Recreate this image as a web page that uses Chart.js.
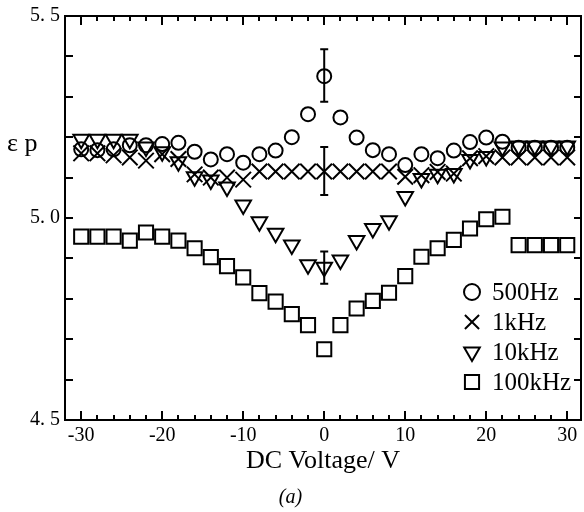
<!DOCTYPE html>
<html>
<head>
<meta charset="utf-8">
<script src="https://cdn.jsdelivr.net/npm/chart.js"></script>
<style>
html,body{margin:0;padding:0;background:#fff;}
canvas{display:block;}
</style>
</head>
<body>
<canvas id="c" width="584" height="512"></canvas>
<script>
// ---- data ----
const voltages = [-30,-28,-26,-24,-22,-20,-18,-16,-14,-12,-10,-8,-6,-4,-2,0,2,4,6,8,10,12,14,16,18,20,22,24,26,28,30];
const eps500Hz = [5.170,5.168,5.170,5.180,5.180,5.183,5.186,5.164,5.145,5.158,5.137,5.158,5.167,5.200,5.257,5.351,5.249,5.199,5.168,5.158,5.131,5.158,5.148,5.167,5.188,5.199,5.189,5.174,5.174,5.174,5.174];
const eps1kHz  = [5.160,5.160,5.155,5.150,5.142,5.158,5.146,5.108,5.100,5.100,5.095,5.115,5.115,5.115,5.115,5.115,5.115,5.115,5.115,5.115,5.102,5.106,5.114,5.110,5.148,5.153,5.150,5.150,5.150,5.150,5.150];
const eps10kHz = [5.195,5.195,5.195,5.195,5.176,5.164,5.139,5.102,5.094,5.077,5.032,4.991,4.962,4.933,4.884,4.878,4.896,4.944,4.974,4.993,5.053,5.098,5.108,5.110,5.145,5.152,5.176,5.178,5.178,5.178,5.178];
const eps100kHz= [4.954,4.954,4.954,4.944,4.964,4.954,4.944,4.925,4.903,4.881,4.853,4.814,4.793,4.762,4.735,4.675,4.735,4.776,4.795,4.815,4.856,4.904,4.925,4.946,4.974,4.997,5.003,4.933,4.933,4.933,4.933];
const seriesNames = ['500Hz','1kHz','10kHz','100kHz'];
// error bars (at 0 V)
const errX    = [0, 0, 0];
const errLow  = [5.288, 5.057, 4.837];
const errHigh = [5.418, 5.176, 4.917];
// ticks
const xTickValues = [-30,-20,-10,0,10,20,30];
const yTickValues = [4.5,5.0,5.5];
const xMinorTicks = [-30,-28,-26,-24,-22,-20,-18,-16,-14,-12,-10,-8,-6,-4,-2,0,2,4,6,8,10,12,14,16,18,20,22,24,26,28,30];
const yMinorTicks = [4.5,4.6,4.7,4.8,4.9,5.0,5.1,5.2,5.3,5.4,5.5];

const FONT = "'Liberation Serif', 'DejaVu Serif', serif";
const styles = [
  {pointStyle:'circle', radius:7, rotation:0},
  {pointStyle:'crossRot', radius:11, rotation:0},
  {pointStyle:'triangle', radius:9, rotation:180},
  {pointStyle:'rect', radius:10, rotation:0}
];
const allSeries = [eps500Hz, eps1kHz, eps10kHz, eps100kHz];

const datasets = allSeries.map((arr, i) => ({
  label: seriesNames[i],
  data: voltages.map((v, k) => ({x: v, y: arr[k]})),
  showLine: false,
  pointStyle: styles[i].pointStyle,
  pointRadius: styles[i].radius,
  pointRotation: styles[i].rotation,
  pointBorderWidth: 2,
  borderColor: '#000',
  backgroundColor: 'rgba(0,0,0,0)',
  pointBackgroundColor: 'rgba(0,0,0,0)',
  pointBorderColor: '#000',
  pointHoverRadius: styles[i].radius
}));

function fallbackDrawPoint(ctx, o, x, y) {
  const r = o.radius;
  ctx.beginPath();
  if (o.pointStyle === 'circle') ctx.arc(x, y, r, 0, Math.PI*2);
  else if (o.pointStyle === 'crossRot') {
    const d = r * Math.SQRT1_2;
    ctx.moveTo(x-d, y-d); ctx.lineTo(x+d, y+d);
    ctx.moveTo(x+d, y-d); ctx.lineTo(x-d, y+d);
  } else if (o.pointStyle === 'triangle') {
    const s = r*Math.sin(Math.PI/3), c = r*0.5;
    ctx.moveTo(x, y + r); ctx.lineTo(x + s, y - c); ctx.lineTo(x - s, y - c); ctx.closePath();
  } else {
    const d = r * Math.SQRT1_2;
    ctx.rect(x-d, y-d, 2*d, 2*d);
  }
  ctx.stroke();
}

const framePlugin = {
  id: 'frame',
  afterDatasetsDraw(chart) {
    const {ctx, chartArea: a, scales: {x, y}} = chart;
    ctx.save();
    ctx.strokeStyle = '#000';
    ctx.lineWidth = 2;
    ctx.strokeRect(a.left, a.top, a.right - a.left, a.bottom - a.top);
    ctx.beginPath();
    xMinorTicks.forEach(v => {
      const px = Math.round(x.getPixelForValue(v));
      const len = (v % 10 === 0) ? 9 : 5;
      ctx.moveTo(px, a.bottom); ctx.lineTo(px, a.bottom - len);
      ctx.moveTo(px, a.top); ctx.lineTo(px, a.top + len);
    });
    yMinorTicks.forEach(v => {
      const py = Math.round(y.getPixelForValue(v));
      ctx.moveTo(a.left, py); ctx.lineTo(a.left + 8, py);
      ctx.moveTo(a.right, py); ctx.lineTo(a.right - 7, py);
    });
    ctx.stroke();
    // error bars
    ctx.beginPath();
    errX.forEach((v, i) => {
      const px = x.getPixelForValue(v);
      const p1 = y.getPixelForValue(errLow[i]);
      const p2 = y.getPixelForValue(errHigh[i]);
      ctx.moveTo(px, p1); ctx.lineTo(px, p2);
      ctx.moveTo(px - 4, p1); ctx.lineTo(px + 4, p1);
      ctx.moveTo(px - 4, p2); ctx.lineTo(px + 4, p2);
    });
    ctx.stroke();
    // legend
    const dp = (Chart.helpers && Chart.helpers.drawPoint) ? Chart.helpers.drawPoint : null;
    ctx.textBaseline = 'middle';
    ctx.textAlign = 'left';
    seriesNames.forEach((name, i) => {
      const ly = 292 + i * 30;
      const o = {pointStyle: styles[i].pointStyle, radius: [8,10,9,10][i], rotation: styles[i].rotation, borderWidth: 2};
      ctx.strokeStyle = '#000';
      ctx.fillStyle = 'rgba(0,0,0,0)';
      ctx.lineWidth = 2;
      if (dp) dp(ctx, o, 472, ly); else fallbackDrawPoint(ctx, o, 472, ly);
      ctx.fillStyle = '#000';
      ctx.font = "25px " + FONT;
      ctx.fillText(name, 492, ly + 1);
    });
    // y-axis label (horizontal)
    ctx.fillStyle = '#000';
    ctx.font = "26px " + FONT;
    ctx.textAlign = 'left';
    ctx.fillText('\u03b5 p', 7, 144);
    ctx.restore();
  }
};

new Chart(document.getElementById('c'), {
  type: 'scatter',
  data: {datasets},
  plugins: [framePlugin],
  options: {
    responsive: false,
    animation: false,
    devicePixelRatio: 1,
    layout: {autoPadding: false, padding: {top: 16, right: 3, left: 0, bottom: 0}},
    plugins: {
      legend: {display: false},
      tooltip: {enabled: false},
      title: {
        display: true,
        text: '(a)',
        position: 'bottom',
        color: '#000',
        font: {family: FONT, size: 20, style: 'italic', weight: 'normal', lineHeight: 1.2},
        padding: {top: 2, bottom: 2}
      }
    },
    scales: {
      x: {
        type: 'linear',
        min: -32, max: 31.7,
        grid: {display: false, drawTicks: false},
        border: {display: false},
        afterFit: s => { s.height = 64; s.paddingLeft = 0; s.paddingRight = 0; },
        afterBuildTicks: s => { s.ticks = xTickValues.map(v => ({value: v})); },
        ticks: {
          color: '#000', padding: 4, maxRotation: 0, autoSkip: false,
          font: {family: FONT, size: 20},
          callback: v => String(v)
        },
        title: {
          display: true, text: 'DC Voltage/ V', color: '#000',
          font: {family: FONT, size: 26, lineHeight: 1.2},
          padding: {top: 4, bottom: 7.4}
        }
      },
      y: {
        type: 'linear',
        min: 4.5, max: 5.5,
        grid: {display: false, drawTicks: false},
        border: {display: false},
        afterFit: s => { s.width = 65; s.paddingTop = 0; s.paddingBottom = 0; },
        afterBuildTicks: s => { s.ticks = yTickValues.map(v => ({value: v})); },
        ticks: {
          color: '#000', padding: 5, autoSkip: false,
          font: {family: FONT, size: 20},
          callback: v => Number(v).toFixed(1).replace('.', '. ')
        }
      }
    }
  }
});
</script>
</body>
</html>
